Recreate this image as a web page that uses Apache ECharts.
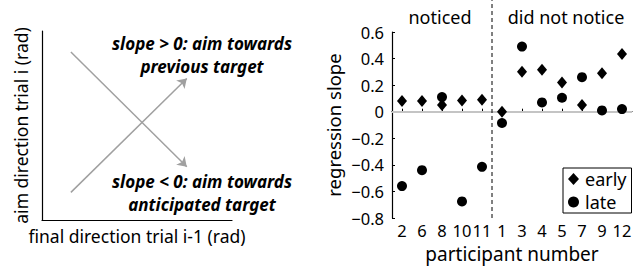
<!DOCTYPE html>
<html>
<head>
<meta charset="utf-8">
<script src="https://cdn.jsdelivr.net/npm/echarts@6/dist/echarts.min.js"></script>
<style>
html,body{margin:0;padding:0;background:#fff;}
#chart{width:641px;height:268px;}
</style>
</head>
<body>
<div id="chart"></div>
<script>
// ---- data ----
const participants = ['2','6','8','10','11','1','3','4','5','7','9','12'];
const early = [0.08, 0.08, 0.05, 0.085, 0.09, 0.0, 0.30, 0.315, 0.22, 0.05, 0.29, 0.435];
const late  = [-0.56, -0.44, 0.11, -0.675, -0.415, -0.085, 0.49, 0.07, 0.105, 0.26, 0.01, 0.02];
const yTicks = { min: -0.8, max: 0.6, interval: 0.2 };
const groupLabels = ['noticed', 'did not notice'];
const groupSplit = 5; // number of participants in the "noticed" group
// schematic arrows (left panel), unit coordinates
const arrowPositive = [[0.152, 0.146], [0.762, 0.749]];
const arrowNegative = [[0.152, 0.889], [0.762, 0.282]];
const schematicText = ['slope > 0: aim towards', 'previous target', 'slope < 0: aim towards', 'anticipated target'];

const FONT = 'Noto Sans';
const chart = echarts.init(document.getElementById('chart'), null, { renderer: 'svg' });
const boldItalic = 'italic bold 17px "Noto Sans"';
function schem(text, y) {
  return { type: 'text', x: 202, y: y, style: { text: text, font: boldItalic, fill: '#000', textAlign: 'center', textVerticalAlign: 'middle', lineHeight: 19 } };
}

const option = {
  backgroundColor: '#fff',
  animation: false,
  textStyle: { fontFamily: FONT, color: '#000' },
  grid: [
    { left: 42, top: 31, width: 190, height: 189 },
    { left: 392, top: 32, width: 240, height: 188 }
  ],
  xAxis: [
    {
      gridIndex: 0, type: 'value', min: 0, max: 1,
      axisLine: { show: true, lineStyle: { color: '#000', width: 1.2 } },
      axisTick: { show: false }, axisLabel: { show: false }, splitLine: { show: false },
      name: 'final direction trial i-1 (rad)', nameLocation: 'middle', nameGap: 7,
      nameTextStyle: { fontSize: 17.5, fontFamily: FONT, color: '#000', verticalAlign: 'top' }
    },
    {
      gridIndex: 1, type: 'category', data: participants, boundaryGap: true,
      axisLine: { show: true, lineStyle: { color: '#000', width: 1.2 } },
      axisTick: { show: true, inside: true, alignWithLabel: true, length: 3, lineStyle: { color: '#000' } },
      axisLabel: { fontSize: 16.5, fontFamily: FONT, color: '#000', margin: 4, interval: 0 },
      splitLine: { show: false },
      name: 'participant number', nameLocation: 'middle', nameGap: 26,
      nameTextStyle: { fontSize: 19, fontFamily: FONT, color: '#000', verticalAlign: 'top' }
    },
    {
      gridIndex: 1, type: 'value', min: 0, max: participants.length, show: false
    }
  ],
  yAxis: [
    {
      gridIndex: 0, type: 'value', min: 0, max: 1,
      axisLine: { show: true, lineStyle: { color: '#000', width: 1.2 } },
      axisTick: { show: false }, axisLabel: { show: false }, splitLine: { show: false },
      name: 'aim direction trial i (rad)', nameLocation: 'middle', nameGap: 12, nameRotate: 90,
      nameTextStyle: { fontSize: 17.5, fontFamily: FONT, color: '#000' }
    },
    {
      gridIndex: 1, type: 'value', min: yTicks.min, max: yTicks.max, interval: yTicks.interval,
      axisLine: { show: true, lineStyle: { color: '#000', width: 1.2 } },
      axisTick: { show: true, inside: true, length: 3, lineStyle: { color: '#000' } },
      axisLabel: {
        fontSize: 16.5, fontFamily: FONT, color: '#000', margin: 8,
        formatter: v => Math.abs(v) < 1e-9 ? '0' : v.toFixed(1).replace('-', '\u2212')
      },
      splitLine: { show: false },
      name: 'regression slope', nameLocation: 'middle', nameGap: 49, nameRotate: 90,
      nameTextStyle: { fontSize: 18.5, fontFamily: FONT, color: '#000' }
    }
  ],
  legend: {
    left: 563, top: 168, orient: 'vertical',
    data: [{ name: 'early', icon: 'diamond' }, { name: 'late', icon: 'circle' }],
    itemWidth: 11, itemHeight: 12, itemGap: 5,
    padding: [2, 5, 2, 5],
    borderColor: '#000', borderWidth: 1, borderRadius: 0,
    backgroundColor: '#fff',
    textStyle: { fontSize: 18, fontFamily: FONT, color: '#000', padding: [0, 0, 0, 1] }
  },
  graphic: [
    schem(schematicText[0], 43),
    schem(schematicText[1], 66),
    schem(schematicText[2], 181),
    schem(schematicText[3], 204),
    { type: 'text', x: 440, y: 17, style: { text: groupLabels[0], font: '18px "Noto Sans"', fill: '#000', textAlign: 'center', textVerticalAlign: 'middle' } },
    { type: 'text', x: 566, y: 17, style: { text: groupLabels[1], font: '18px "Noto Sans"', fill: '#000', textAlign: 'center', textVerticalAlign: 'middle' } }
  ],
  series: [
    {
      type: 'lines', coordinateSystem: 'cartesian2d', xAxisIndex: 0, yAxisIndex: 0,
      symbol: ['none', 'arrow'], symbolSize: 9, silent: true,
      lineStyle: { color: '#a0a0a0', width: 1.5, opacity: 1 },
      data: [{ coords: arrowPositive }, { coords: arrowNegative }]
    },
    {
      type: 'line', xAxisIndex: 2, yAxisIndex: 1, clip: false, silent: true,
      symbol: 'none', lineStyle: { color: '#000', width: 1, type: [4, 3] },
      data: [[groupSplit, yTicks.min], [groupSplit, 0.84]], z: 1
    },
    {
      name: 'early', type: 'scatter', xAxisIndex: 1, yAxisIndex: 1,
      symbol: 'diamond', symbolSize: [10, 12],
      itemStyle: { color: '#000', opacity: 1 }, data: early, z: 4,
      markLine: {
        silent: true, symbol: 'none', label: { show: false },
        lineStyle: { color: '#c4c4c4', width: 2, type: 'solid' },
        data: [{ yAxis: 0 }], z: 1
      }
    },
    {
      name: 'late', type: 'scatter', xAxisIndex: 1, yAxisIndex: 1,
      symbol: 'circle', symbolSize: 10,
      itemStyle: { color: '#000', opacity: 1 }, data: late, z: 3
    }
  ]
};
chart.setOption(option);
</script>
</body>
</html>
